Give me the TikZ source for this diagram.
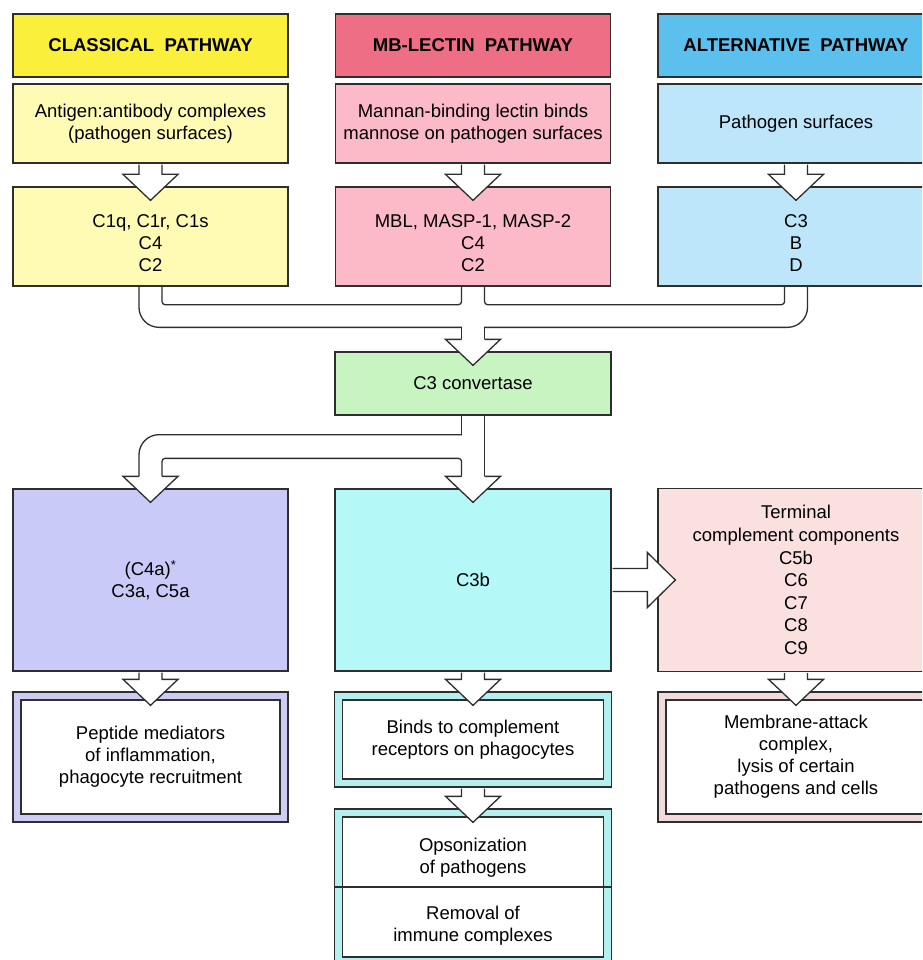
\documentclass[tikz,border=0pt]{standalone}
\usepackage{fontspec}
\setmainfont{Liberation Sans}
\usetikzlibrary{calc}
\usetikzlibrary{positioning}

\definecolor{linegray}{HTML}{2E2E2E}
\definecolor{clhead}{HTML}{FAF03C}
\definecolor{cllight}{HTML}{FFFBB4}
\definecolor{lehead}{HTML}{EE6E86}
\definecolor{lelight}{HTML}{FCBAC8}
\definecolor{alhead}{HTML}{5CC0EE}
\definecolor{allight}{HTML}{BEE6FA}
\definecolor{convgreen}{HTML}{C8F4C2}
\definecolor{purfill}{HTML}{CACAF8}
\definecolor{cyanfill}{HTML}{B4F8F8}
\definecolor{termfill}{HTML}{FBE0E0}
\definecolor{purband}{HTML}{CCCCF5}
\definecolor{cyanband}{HTML}{B4F0F0}
\definecolor{pinkband}{HTML}{F0DADA}

% fat white arrows between boxes
\newcommand{\fathead}[1]{%
  \draw[fatarrow] ($(#1.north)+(-11.5,-12)$) -- ++(-16,0) -- ($(#1.north)+(0,14)$)
    -- ($(#1.north)+(27.5,-12)$) -- ++(-16,0);}
\newcommand{\fatdown}[2]{%
  \draw[fatarrow] ($(#1.south)+(-11.5,1)$) -- ($(#2.north)+(-11.5,-12)$) -- ++(-16,0)
    -- ($(#2.north)+(0,14)$) -- ($(#2.north)+(27.5,-12)$) -- ++(-16,0)
    -- ($(#1.south)+(11.5,1)$);}
\newcommand{\fatright}[2]{%
  \draw[fatarrow] ($(#1.east)+(1,-11.5)$) -- ($(#2.west)+(-10,-11.5)$) -- ++(0,-16)
    -- ($(#2.west)+(18,0)$) -- ($(#2.west)+(-10,27.5)$) -- ++(0,-16)
    -- ($(#1.east)+(1,11.5)$);}

\tikzset{
  box/.style={draw=linegray, line width=1.3pt, inner sep=0pt, align=center,
    minimum width=275pt, font=\fontsize{18.5}{22}\selectfont},
  headbox/.style={box, minimum height=63pt, font=\fontsize{18.5}{21}\selectfont\bfseries},
  dbox/.style={box, fill=#1,
    path picture={\draw[linegray, line width=1.3pt, fill=white]
      ($(path picture bounding box.south west)+(8,-8)$) rectangle
      ($(path picture bounding box.north east)+(-8,8)$);}},
  plain/.style={inner sep=0pt, align=center, font=\fontsize{18.5}{22}\selectfont},
  fatarrow/.style={draw=linegray, fill=white, line width=1.3pt, line join=miter},
  tube/.style={draw=linegray, line width=1.3pt, line cap=round},
}

\begin{document}
\begin{tikzpicture}[x=1pt, y=-1pt]
    \clip (0,0) rectangle (922,960);
    \fill[white] (0,0) rectangle (922,960);

    % Pathway headers
    \node[headbox, fill=clhead] (chead) at (150.5,45.5) {CLASSICAL\ \ PATHWAY};
    \node[headbox, fill=lehead] (lhead) at (473,45.5) {MB-LECTIN\ \ PATHWAY};
    \node[headbox, fill=alhead, minimum width=276pt] (ahead) at (796,45.5) {ALTERNATIVE\ \ PATHWAY};

    % Triggers
    \node[box, fill=cllight, minimum height=79pt] (csrc) at (150.5,123.5) {Antigen:antibody complexes\\(pathogen surfaces)};
    \node[box, fill=lelight, minimum height=79pt] (lsrc) at (473,123.5) {Mannan-binding lectin binds\\mannose on pathogen surfaces};
    \node[box, fill=allight, minimum height=79pt, minimum width=276pt] (asrc) at (796,123.5) {Pathogen surfaces};

    % Components
    \node[box, fill=cllight, minimum height=99pt, label={[plain, yshift=-7pt]center:{C1q, C1r, C1s\\C4\\C2}}] (ccomp) at (150.5,236.5) {};
    \node[box, fill=lelight, minimum height=99pt, label={[plain, yshift=-7pt]center:{MBL, MASP-1, MASP-2\\C4\\C2}}] (lcomp) at (473,236.5) {};
    \node[box, fill=allight, minimum height=99pt, minimum width=276pt, label={[plain, yshift=-7pt]center:{C3\\B\\D}}] (acomp) at (796,236.5) {};

    % C3 convertase
    \node[box, fill=convgreen, minimum width=276pt, minimum height=63pt] (conv) at (473,383.5) {C3 convertase};

    % Effector molecules
    \node[box, fill=purfill, minimum height=182pt] (pur) at (150.5,580) {(C4a)\textsuperscript{*}\\C3a, C5a};
    \node[box, fill=cyanfill, minimum width=276pt, minimum height=182pt] (c3b) at (473,580) {C3b};
    \node[box, fill=termfill, minimum width=276pt, minimum height=183pt,
          font=\fontsize{18.5}{22.6}\selectfont] (term) at (796,580)
          {Terminal\\complement components\\C5b\\C6\\C7\\C8\\C9};

    % Outcomes
    \node[dbox=purband, minimum height=130pt] (pep) at (150.5,757) {Peptide mediators\\of inflammation,\\phagocyte recruitment};
    \node[dbox=cyanband, minimum width=277pt, minimum height=95pt] (binds) at (473,739.5) {Binds to complement\\receptors on phagocytes};
    \node[dbox=pinkband, minimum width=276pt, minimum height=130pt] (mac) at (796,757) {Membrane-attack\\complex,\\lysis of certain\\pathogens and cells};
    \node[dbox=cyanband, minimum width=277pt, minimum height=156pt] (ops) at (473,887) {};
    \draw[tube, line cap=butt] (ops.west) -- (ops.east);
    \node[plain] (opsup) at (473,858) {Opsonization\\of pathogens};
    \node[plain] (opslow) at (473,926) {Removal of\\immune complexes};

    % Arrows down the columns
    \fatdown{csrc}{ccomp}
    \fatdown{lsrc}{lcomp}
    \fatdown{asrc}{acomp}

    % Pathways merge into C3 convertase
    \draw[tube, rounded corners=20pt] ($(ccomp.south)+(-11.5,0)$) |- ($(conv.north)+(-11.5,-24)$);
    \draw[tube] ($(conv.north)+(-11.5,-24)$) -- ($(conv.north)+(-11.5,-12)$);
    \draw[tube] ($(conv.north)+(11.5,-12)$) -- ($(conv.north)+(11.5,-24)$);
    \draw[tube, rounded corners=20pt] ($(conv.north)+(11.5,-24)$) -| ($(acomp.south)+(11.5,0)$);
    \draw[tube, rounded corners=3pt] ($(ccomp.south)+(11.5,0)$) |- ($(lcomp.south)+(-11.5,18)$) -- ($(lcomp.south)+(-11.5,0)$);
    \draw[tube, rounded corners=3pt] ($(lcomp.south)+(11.5,0)$) |- ($(acomp.south)+(-11.5,18)$) -- ($(acomp.south)+(-11.5,0)$);
    \fathead{conv}

    % C3 convertase splits
    \draw[tube] ($(conv.south)+(-11.5,0)$) -- ($(conv.south)+(-11.5,19)$);
    \draw[tube, rounded corners=20pt] ($(conv.south)+(-11.5,19)$) -| ($(pur.north)+(-11.5,-12)$);
    \draw[tube, rounded corners=3pt] ($(pur.north)+(11.5,-12)$) |- ($(c3b.north)+(-11.5,-30)$) -- ($(c3b.north)+(-11.5,-12)$);
    \draw[tube] ($(conv.south)+(11.5,0)$) -- ($(c3b.north)+(11.5,-12)$);
    \fathead{pur}
    \fathead{c3b}

    % Effector arrows
    \fatright{c3b}{term}
    \fatdown{pur}{pep}
    \fatdown{c3b}{binds}
    \fatdown{binds}{ops}
    \fatdown{term}{mac}
\end{tikzpicture}
\end{document}
